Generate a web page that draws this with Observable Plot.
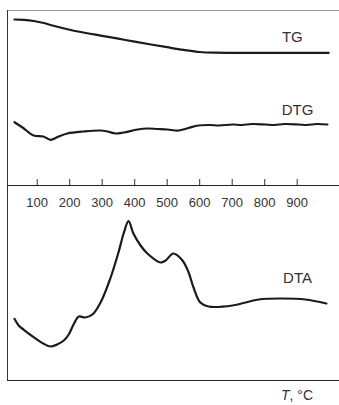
<!DOCTYPE html>
<html><head><meta charset="utf-8">
<script src="https://cdn.jsdelivr.net/npm/d3@7"></script>
<script src="https://cdn.jsdelivr.net/npm/@observablehq/plot@0.6"></script>
<style>
body{margin:0;background:#fff;}
#chart{width:339px;position:relative;background:#fff;}
#chart svg{display:block;}
#xlabel{height:21px;position:relative;font:14px "Liberation Sans",Arial,sans-serif;color:#333;}
#xlabel span{position:absolute;right:26px;top:3px;line-height:16px;}
</style></head><body><div id="chart"></div>
<script>
// Temperature axis ticks (°C)
const xTicks = [100, 200, 300, 400, 500, 600, 700, 800, 900];

// TG curve (arbitrary units)
const tgTemp   = [30, 60, 90, 120, 150, 200, 250, 300, 350, 400, 450, 500, 550, 600, 650, 700, 800, 900, 997];
const tgSignal = [166, 165.7, 164.5, 162.5, 159.7, 155.7, 152.5, 149.7, 146.8, 143.8, 141, 138.3, 135.7, 133.5, 132.8, 132.7, 132.6, 132.7, 132.7];

// DTG curve (arbitrary units)
const dtgTemp   = [30, 55, 89, 119, 141, 166, 193, 243, 295, 316, 341, 366, 409, 439, 470, 501, 535, 565, 596, 630, 660, 701, 730, 760, 802, 830, 860, 904, 930, 960, 993];
const dtgSignal = [63.3, 58, 50, 49, 45.7, 49, 52, 54, 55, 54, 52, 53, 56, 57, 56.5, 56, 55, 57.5, 60, 60.5, 60, 61, 60.5, 61.5, 61, 60.5, 61.5, 61, 60.5, 61.5, 61];

// DTA curve (arbitrary units)
const dtaTemp   = [30, 43, 59, 89, 120, 141, 161, 182, 197, 213, 228, 248, 270, 295, 326, 350, 366, 381, 396, 418, 439, 479, 495, 519, 547, 566, 581, 602, 627, 701, 781, 855, 925, 990];
const dtaSignal = [61.7, 55, 50.7, 43.3, 36.7, 34, 36, 40, 46, 56.7, 64, 63, 66, 78, 103, 128, 147, 159.3, 147, 135, 127, 118, 120, 127, 120, 108, 93, 78, 74, 75, 81, 82, 81, 77];

// Curve labels
const labelNames  = ["TG", "DTG", "DTA"];
const labelTemp   = [885, 901, 901];
const labelSignal = [148, 75, 102];

const xDomain = [8.6, 1030.2];
const topDomain = [0, 175];
const bottomDomain = [0, 168];

const tgRows  = tgTemp.map((t, i) => ({t, v: tgSignal[i]}));
const dtgRows = dtgTemp.map((t, i) => ({t, v: dtgSignal[i]}));
const dtaRows = dtaTemp.map((t, i) => ({t, v: dtaSignal[i]}));
const labelRows = labelNames.map((name, i) => ({name, t: labelTemp[i], v: labelSignal[i]}));

const lineColor = "#1b1b1b";
const common = {
  width: 339,
  marginLeft: 7,
  marginRight: 0,
  style: {fontFamily: "'Liberation Sans', Arial, sans-serif", fontSize: "13px", color: "#333", background: "white", overflow: "visible"}
};

const upperPanel = Plot.plot({
  ...common,
  height: 212,
  marginTop: 10,
  marginBottom: 27,
  x: {domain: xDomain, axis: null, label: null},
  y: {domain: topDomain, axis: null},
  marks: [
    Plot.ruleY([topDomain[1]], {stroke: "#999", strokeWidth: 1}),
    Plot.ruleX([xDomain[0]], {stroke: "#333", strokeWidth: 1, insetBottom: -27}),
    Plot.ruleY([topDomain[0]], {stroke: "#222", strokeWidth: 1}),
    Plot.ruleX(xTicks, {x: d => d, y1: 0, y2: 0, insetTop: -6, stroke: "#333", strokeWidth: 1}),
    Plot.axisX(xTicks, {tickSize: 0, tickPadding: 12.5, fontSize: 13, fill: "#333", label: null}),
    Plot.line(tgRows, {x: "t", y: "v", curve: "catmull-rom", stroke: lineColor, strokeWidth: 2.2}),
    Plot.line(dtgRows, {x: "t", y: "v", curve: "catmull-rom", stroke: lineColor, strokeWidth: 2.2}),
    Plot.text(labelRows.slice(0, 2), {x: "t", y: "v", text: "name", fontSize: 15, fill: "#333"})
  ]
});

const lowerPanel = Plot.plot({
  ...common,
  height: 172,
  marginTop: 0,
  marginBottom: 4,
  x: {domain: xDomain, axis: null, label: null},
  y: {domain: bottomDomain, axis: null},
  marks: [
    Plot.ruleX([xDomain[0]], {stroke: "#333", strokeWidth: 1}),
    Plot.ruleY([bottomDomain[0]], {stroke: "#222", strokeWidth: 1}),
    Plot.line(dtaRows, {x: "t", y: "v", curve: "catmull-rom", stroke: lineColor, strokeWidth: 2.2}),
    Plot.text(labelRows.slice(2), {x: "t", y: "v", text: "name", fontSize: 15, fill: "#333"})
  ]
});

const chart = document.getElementById("chart");
chart.appendChild(upperPanel);
chart.appendChild(lowerPanel);
const xl = document.createElement("div");
xl.id = "xlabel";
xl.innerHTML = "<span><i>T</i>, °C</span>";
chart.appendChild(xl);
</script>
</body></html>
